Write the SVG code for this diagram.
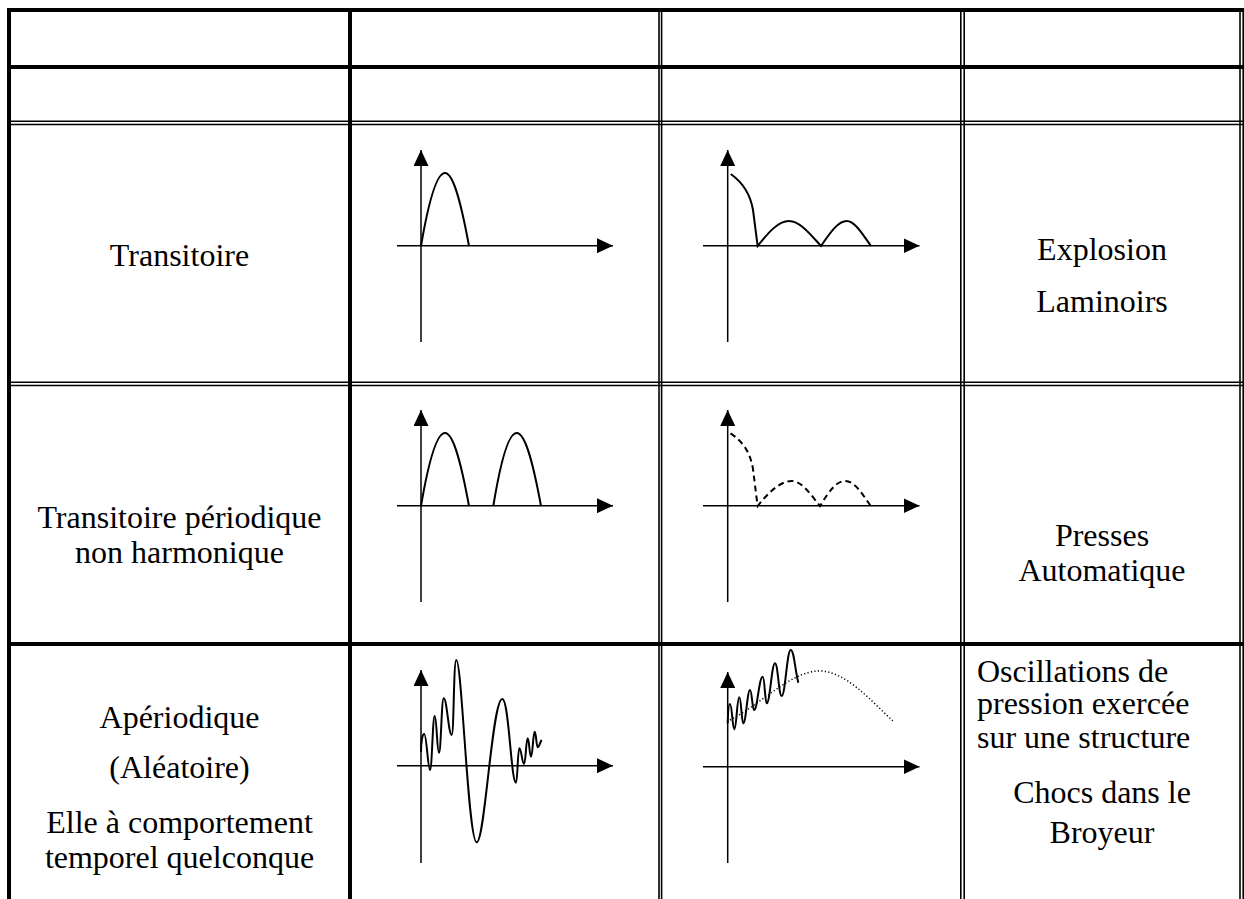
<svg xmlns="http://www.w3.org/2000/svg" width="1244" height="899" viewBox="0 0 1244 899">
<style>
.bg{fill:#fff}
.thick{stroke:#000;stroke-width:4;fill:none}
.thin{stroke:#000;stroke-width:1.6;fill:none}
.axis{stroke:#000;stroke-width:1.5;fill:none}
.curve{stroke:#000;stroke-width:2;fill:none}
.dash{stroke:#000;stroke-width:2;fill:none;stroke-dasharray:6 4}
.dot{stroke:#000;stroke-width:1.5;fill:none;stroke-dasharray:1.2 2.3}
.t{font-family:"Liberation Serif","Times New Roman",serif;font-size:32px;fill:#000;text-anchor:middle}
.tl{font-family:"Liberation Serif","Times New Roman",serif;font-size:32px;fill:#000;text-anchor:start}
</style>
<defs>
<marker id="arr" viewBox="0 0 16 15" refX="16" refY="7.5" markerWidth="16" markerHeight="15" markerUnits="userSpaceOnUse" orient="auto">
<path d="M0,0 L16,7.5 L0,15 z" fill="#000"/>
</marker>
</defs>
<rect class="bg" x="0" y="0" width="1244" height="899"/>

<g id="table-grid">
<line class="thick" x1="7" y1="10" x2="1244" y2="10"/>
<line class="thick" x1="7" y1="67" x2="1244" y2="67"/>
<line class="thin" x1="7" y1="121.3" x2="1244" y2="121.3"/>
<line class="thin" x1="7" y1="124.5" x2="1244" y2="124.5"/>
<line class="thin" x1="7" y1="382.3" x2="1244" y2="382.3"/>
<line class="thin" x1="7" y1="385.5" x2="1244" y2="385.5"/>
<line class="thick" x1="7" y1="644" x2="1244" y2="644"/>
<line class="thick" x1="9" y1="8" x2="9" y2="899"/>
<line class="thick" x1="350" y1="8" x2="350" y2="899"/>
<line class="thin" x1="659" y1="8" x2="659" y2="899"/>
<line class="thin" x1="661.6" y1="8" x2="661.6" y2="899"/>
<line class="thin" x1="960.8" y1="8" x2="960.8" y2="899"/>
<line class="thin" x1="964.2" y1="8" x2="964.2" y2="899"/>
<line class="thin" x1="1240" y1="8" x2="1240" y2="899"/>
<line class="thin" x1="1243.2" y1="8" x2="1243.2" y2="899"/>
</g>

<g id="row-transitoire">
<text class="t" x="179.5" y="266">Transitoire</text>
<g id="g-r3c2">
<line class="axis" x1="421" y1="342" x2="421" y2="150" marker-end="url(#arr)"/>
<line class="axis" x1="397" y1="245.7" x2="613" y2="245.7" marker-end="url(#arr)"/>
<path class="curve" d="M421,246 C428,205 436,173 445,173 C454,173 462,208 469,246"/>
</g>
<g id="g-r3c3">
<line class="axis" x1="727.7" y1="342" x2="727.7" y2="150" marker-end="url(#arr)"/>
<line class="axis" x1="703" y1="245.7" x2="919.5" y2="245.7" marker-end="url(#arr)"/>
<path class="curve" d="M730.7,174 C742,182 750,192 753,210 C755,225 756.5,238 757.7,246 C768,233 778,221 789,221 C800,221 811,235 821,246 C830,233 838,221 846.7,221 C855,221 863,235 871,246"/>
</g>
<text class="t" x="1102" y="260">Explosion</text>
<text class="t" x="1102" y="312">Laminoirs</text>
</g>

<g id="row-periodique">
<text class="t" x="179.5" y="528">Transitoire périodique</text>
<text class="t" x="179.5" y="563">non harmonique</text>
<g id="g-r4c2">
<line class="axis" x1="421" y1="602" x2="421" y2="410" marker-end="url(#arr)"/>
<line class="axis" x1="397" y1="505.7" x2="613" y2="505.7" marker-end="url(#arr)"/>
<path class="curve" d="M421,506 C428,465 436,433 445,433 C454,433 462,468 469,506"/>
<path class="curve" d="M493.3,506 C500,465 508,433 516.7,433 C526,433 534,468 541,506"/>
</g>
<g id="g-r4c3">
<line class="axis" x1="727.7" y1="602" x2="727.7" y2="410" marker-end="url(#arr)"/>
<line class="axis" x1="703" y1="505.7" x2="919.5" y2="505.7" marker-end="url(#arr)"/>
<path class="dash" d="M730.5,433.3 C742,441 750,451 753,469 C755,485 756.5,498 757.7,506 C768,493 780,481 791.7,481 C802,481 811,495 820,506 C828,493 836,481 845,481 C855,481 863,495 870.7,506"/>
</g>
<text class="t" x="1102" y="546">Presses</text>
<text class="t" x="1102" y="581">Automatique</text>
</g>

<g id="row-aperiodique">
<text class="t" x="179.5" y="728">Apériodique</text>
<text class="t" x="179.5" y="778">(Aléatoire)</text>
<text class="t" x="179.5" y="833">Elle à comportement</text>
<text class="t" x="179.5" y="868">temporel quelconque</text>
<g id="g-r5c2">
<line class="axis" x1="421" y1="863" x2="421" y2="670" marker-end="url(#arr)"/>
<line class="axis" x1="397" y1="765.7" x2="613" y2="765.7" marker-end="url(#arr)"/>
<path class="curve" d="M421,752 C421,741 422.5,734 424.3,734 C426.5,734 428,770 430,770 C432,770 432.7,716 434.7,716 C436.7,716 437,752.7 439,752.7 C441,752.7 441.5,698.3 443.7,698.3 C447,698.3 448.5,735 451.7,735 C454,735 453.5,660 456.3,660 C462,660 468,842.3 476.7,842.3 C485,842.3 492,699 502.3,699 C509,699 511,782.7 516,782.7 C517.6,782.7 517.7,748.3 519.3,748.3 C521.5,748.3 522,764 524,764 C525.8,764 526,738.3 527.7,738.3 C529.3,738.3 529.4,756.7 531,756.7 C532.8,756.7 533,731.7 534.7,731.7 C536.2,731.7 536.3,747.3 537.7,747.3 C539.2,747.3 540,742 541.7,740"/>
</g>
<g id="g-r5c3">
<line class="axis" x1="727.7" y1="863" x2="727.7" y2="672" marker-end="url(#arr)"/>
<line class="axis" x1="703" y1="766.7" x2="919.5" y2="766.7" marker-end="url(#arr)"/>
<path class="dot" d="M730,720 C760,705 790,672 818,671 C845,670 870,700 893,721"/>
<path class="curve" d="M727.7,723.3 C728,712 728.8,704 730,704 C732,704 732.5,729.3 734.3,729.3 C736.5,729.3 737,697.3 739.3,697.3 C741.3,697.3 741.5,723.3 743.3,723.3 C746,723.3 747.3,690 750,690 C752,690 752.3,710 754,710 C757.5,710 759,676.7 762.7,676.7 C764.7,676.7 765,703.3 766.7,703.3 C770,703.3 771.7,663.3 775,663.3 C778,663.3 778.7,696 781.7,696 C785.3,696 787,650 790.7,650 C794,650 795,670 798.3,682.7"/>
</g>
<text class="tl" x="977" y="681.5">Oscillations de</text>
<text class="tl" x="977" y="714">pression exercée</text>
<text class="tl" x="977" y="747.5">sur une structure</text>
<text class="t" x="1102" y="803">Chocs dans le</text>
<text class="t" x="1102" y="843">Broyeur</text>
</g>
</svg>
